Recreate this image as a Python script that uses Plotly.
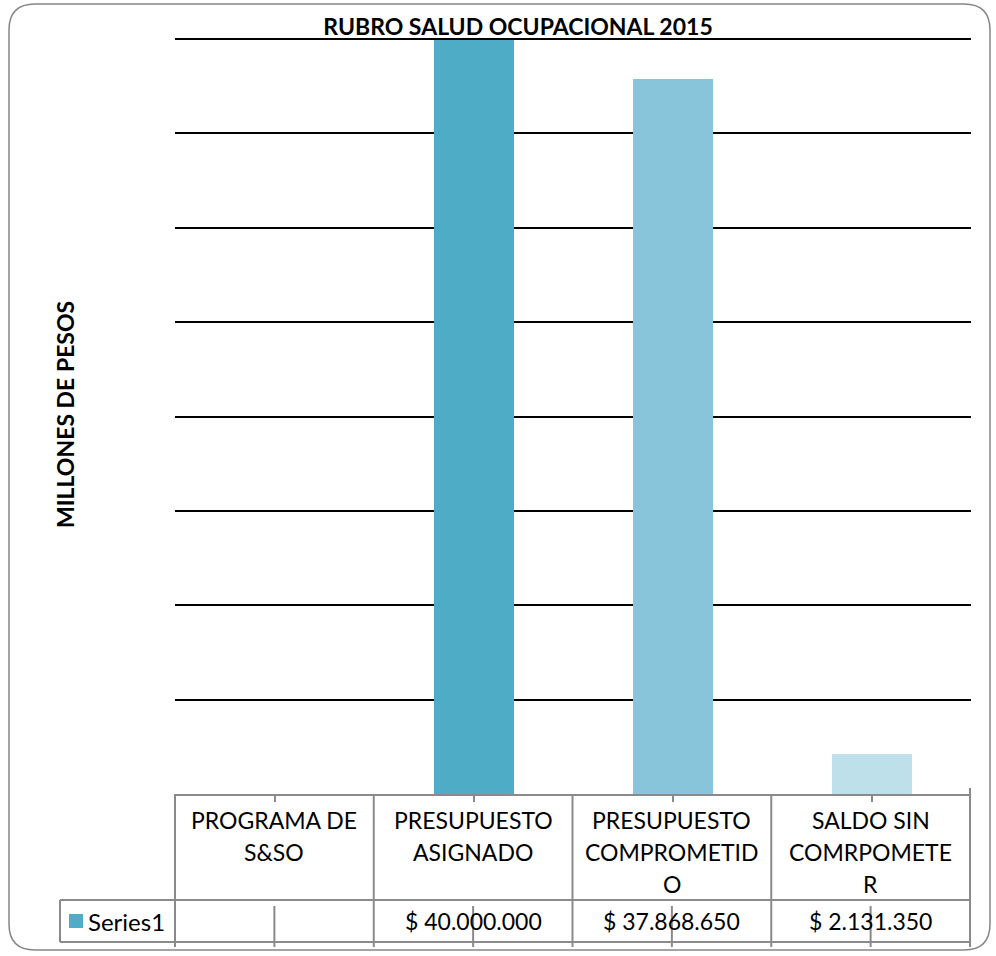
import plotly.graph_objects as go

# ---- data ----
categories = ["PROGRAMA DE S&SO", "PRESUPUESTO ASIGNADO", "PRESUPUESTO COMPROMETIDO", "SALDO SIN COMRPOMETER"]
category_lines = [["PROGRAMA DE", "S&SO"], ["PRESUPUESTO", "ASIGNADO"],
                  ["PRESUPUESTO", "COMPROMETID", "O"], ["SALDO SIN", "COMRPOMETE", "R"]]
values = [None, 40000000, 37868650, 2131350]
series_name = "Series1"
bar_colors = ["#4FACC6", "#4FACC6", "#88C5DA", "#BEE0EA"]
title_text = "RUBRO SALUD OCUPACIONAL 2015"
y_title = "MILLONES DE PESOS"

W, H = 996, 956
FONT = "Lato"
FS = 23
GRAY = "#8A8A8A"

def px(x):
    return x / W

def py(y):
    return 1 - y / H

# plot area in pixels
L, R, T, B = 175, 971, 39, 794

def fmt(v):
    if v is None:
        return ""
    return "$ " + f"{v:,}".replace(",", ".")

fig = go.Figure()
fig.add_trace(go.Bar(
    x=categories, y=values, name=series_name,
    marker=dict(color=bar_colors, line=dict(width=0)),
    width=0.402, showlegend=False,
))

fig.update_layout(
    width=W, height=H, autosize=False,
    margin=dict(l=0, r=0, t=0, b=0),
    paper_bgcolor="white", plot_bgcolor="white",
    font=dict(family=FONT, size=FS, color="black"),
    title=dict(text="<b>" + title_text + "</b>", x=px(518), y=py(27),
               xref="paper", yref="paper", xanchor="center", yanchor="middle",
               font=dict(family=FONT, size=FS, color="black")),
    xaxis=dict(domain=[px(L), px(R)], range=[-0.5, 3.5], showticklabels=False,
               showline=True, linecolor=GRAY, linewidth=2, ticks="outside",
               ticklen=6, tickwidth=2, tickcolor=GRAY, showgrid=False,
               zeroline=False, fixedrange=True),
    yaxis=dict(domain=[py(B), py(T)], range=[0, 40000000], dtick=5000000,
               showticklabels=False, showgrid=True, gridcolor="black",
               gridwidth=2, zeroline=False, showline=False, ticks="",
               fixedrange=True),
    bargap=0,
)

shapes = []

def line(x0, y0, x1, y1, color=GRAY, width=2):
    shapes.append(dict(type="line", xref="paper", yref="paper",
                       x0=px(x0), y0=py(y0), x1=px(x1), y1=py(y1),
                       line=dict(color=color, width=width)))

# top gridline (at range max)
line(L, T, R, T, color="black", width=2)

# outer rounded border
x0b, y0b, x1b, y1b, r = 9, 4, 990, 950, 26
path = (f"M {px(x0b + r)},{py(y0b)} L {px(x1b - r)},{py(y0b)} "
        f"Q {px(x1b)},{py(y0b)} {px(x1b)},{py(y0b + r)} "
        f"L {px(x1b)},{py(y1b - r)} Q {px(x1b)},{py(y1b)} {px(x1b - r)},{py(y1b)} "
        f"L {px(x0b + r)},{py(y1b)} Q {px(x0b)},{py(y1b)} {px(x0b)},{py(y1b - r)} "
        f"L {px(x0b)},{py(y0b + r)} Q {px(x0b)},{py(y0b)} {px(x0b + r)},{py(y0b)} Z")
shapes.append(dict(type="path", xref="paper", yref="paper", path=path,
                   line=dict(color="#868686", width=1.5)))

# data table grid
col_edges = [L + i * (R - L - 1) / 4 for i in range(5)]
row_mid, row_bot = 900, 942
for i, xe in enumerate(col_edges):
    top = 788 if i == len(col_edges) - 1 else B
    line(xe, top, xe, 947)
line(L, row_mid, col_edges[-1], row_mid)
line(60, row_bot, col_edges[-1], row_bot)
line(60, row_mid, L, row_mid)
line(60, row_mid, 60, row_bot)
# center marks in value row
for i in range(4):
    xc = (col_edges[i] + col_edges[i + 1]) / 2
    line(xc, 906, xc, 947)

# legend key square
shapes.append(dict(type="rect", xref="paper", yref="paper",
                   x0=px(69), x1=px(83), y0=py(928), y1=py(914),
                   fillcolor=bar_colors[1], line=dict(width=0)))

annotations = []
# header labels
line_y = [820, 852, 884]
for i, lines_ in enumerate(category_lines):
    xc = (col_edges[i] + col_edges[i + 1]) / 2
    for j, t in enumerate(lines_):
        annotations.append(dict(text=t, x=px(xc), y=py(line_y[j]), xref="paper", yref="paper",
                                xanchor="center", yanchor="middle", showarrow=False,
                                font=dict(family=FONT, size=FS, color="black")))
# values
for i, v in enumerate(values):
    xc = (col_edges[i] + col_edges[i + 1]) / 2
    annotations.append(dict(text=fmt(v), x=px(xc), y=py(921), xref="paper", yref="paper",
                            xanchor="center", yanchor="middle", showarrow=False,
                            font=dict(family=FONT, size=FS, color="black")))
# legend label
annotations.append(dict(text=series_name, x=px(86), y=py(921), xref="paper", yref="paper",
                        xanchor="left", yanchor="middle", showarrow=False,
                        font=dict(family=FONT, size=FS + 1, color="black")))
# y axis title
annotations.append(dict(text="<b>" + y_title + "</b>", x=px(65), y=py(415), xref="paper", yref="paper",
                        xanchor="center", yanchor="middle", showarrow=False, textangle=-90,
                        font=dict(family=FONT, size=FS, color="black")))

fig.update_layout(shapes=shapes, annotations=annotations)
fig.write_html("out.html", config={"displayModeBar": False},
               post_script="document.body.style.margin='0';")
